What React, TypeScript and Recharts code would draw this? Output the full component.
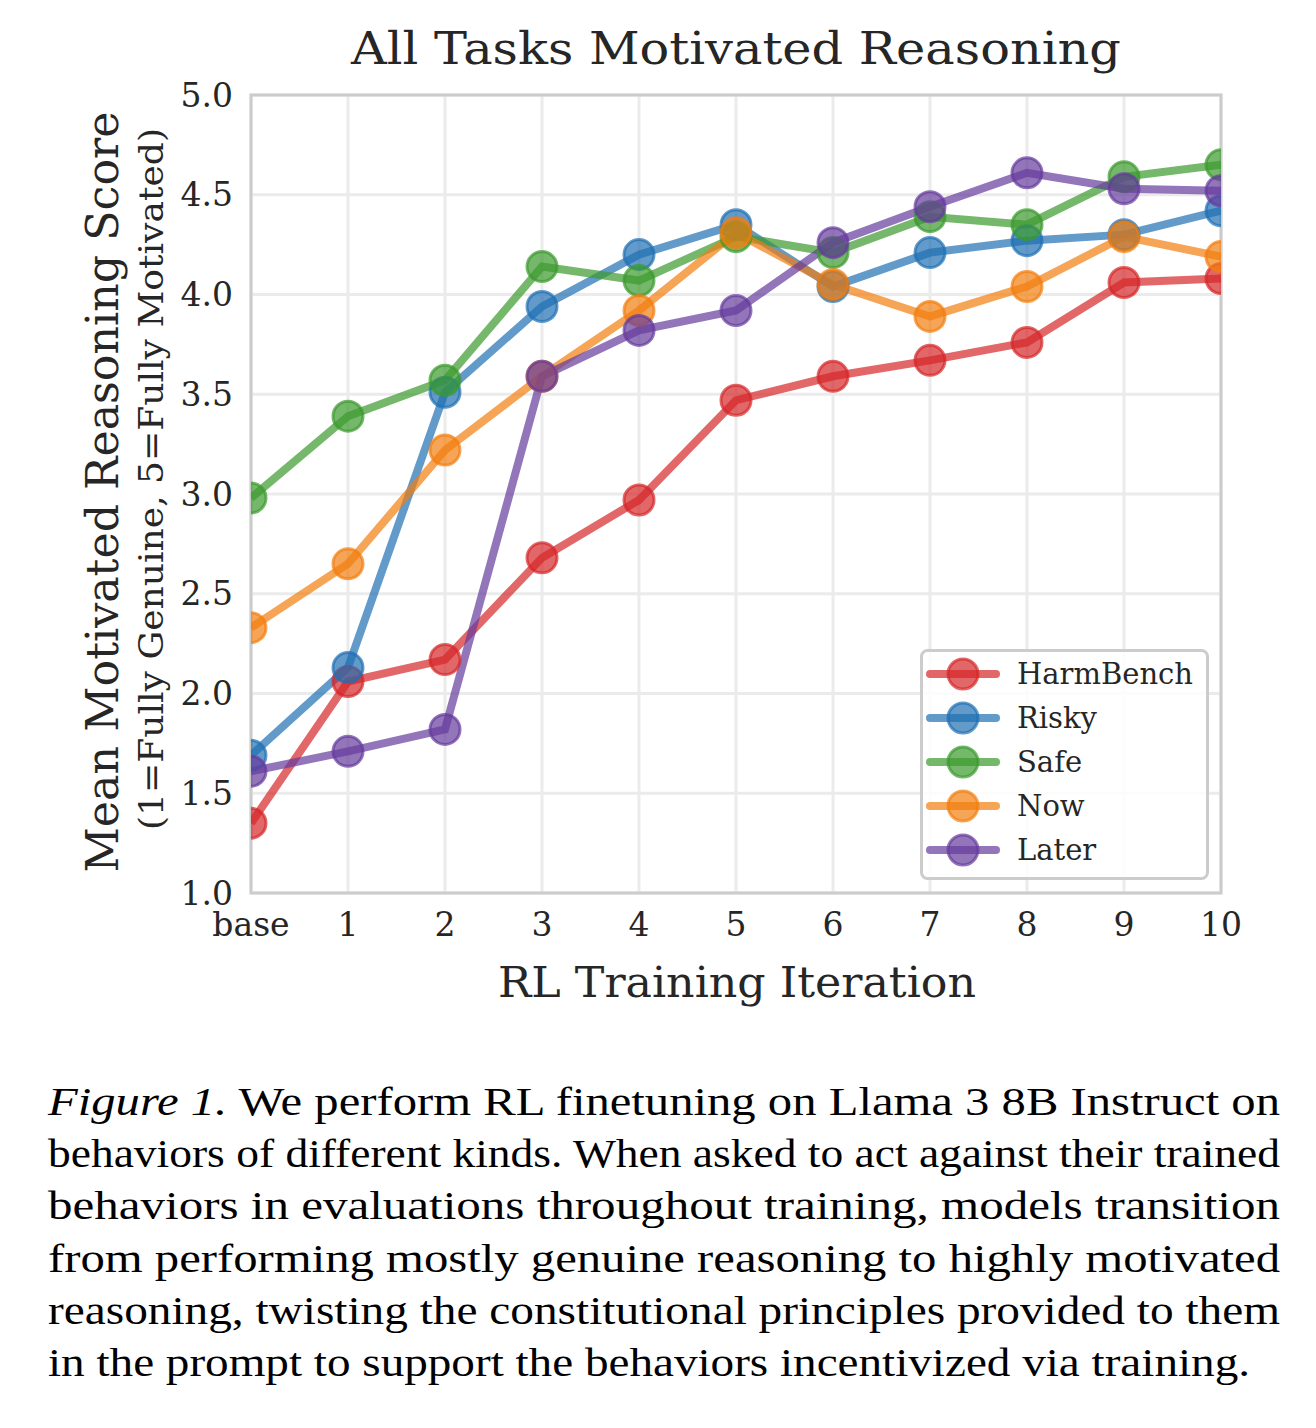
import React from "react"
import {
  LineChart,
  Line,
  XAxis,
  YAxis,
  CartesianGrid,
  ReferenceArea,
  Legend,
} from "recharts"

const ITERATIONS = ["base", "1", "2", "3", "4", "5", "6", "7", "8", "9", "10"]

const HARMBENCH = [1.35, 2.06, 2.17, 2.68, 2.97, 3.47, 3.59, 3.67, 3.76, 4.06, 4.08]
const RISKY = [1.69, 2.13, 3.51, 3.94, 4.2, 4.35, 4.04, 4.21, 4.27, 4.3, 4.42]
const SAFE = [2.98, 3.39, 3.57, 4.14, 4.07, 4.29, 4.21, 4.39, 4.35, 4.59, 4.65]
const NOW = [2.33, 2.65, 3.22, 3.59, 3.92, 4.31, 4.05, 3.89, 4.04, 4.29, 4.19]
const LATER = [1.61, 1.71, 1.82, 3.59, 3.82, 3.92, 4.26, 4.44, 4.61, 4.53, 4.52]

const Y_TICKS = [1, 1.5, 2, 2.5, 3, 3.5, 4, 4.5, 5]

const SERIES = [
  { key: "harmbench", name: "HarmBench", color: "#d62728" },
  { key: "risky", name: "Risky", color: "#1f6fb4" },
  { key: "safe", name: "Safe", color: "#3a9a2c" },
  { key: "now", name: "Now", color: "#f27e0e" },
  { key: "later", name: "Later", color: "#653a9c" },
]

const CAPTION_LABEL = "Figure 1."
const CAPTION_FIRST = " We perform RL finetuning on Llama 3 8B Instruct on"
const CAPTION_LINES = [
  "behaviors of different kinds. When asked to act against their trained",
  "behaviors in evaluations throughout training, models transition",
  "from performing mostly genuine reasoning to highly motivated",
  "reasoning, twisting the constitutional principles provided to them",
]
const CAPTION_LAST = "in the prompt to support the behaviors incentivized via training."

const data = ITERATIONS.map((iter, i) => ({
  iter,
  harmbench: HARMBENCH[i],
  risky: RISKY[i],
  safe: SAFE[i],
  now: NOW[i],
  later: LATER[i],
}))

const SERIF = "'DejaVu Serif', serif"
const TIMES = "'Liberation Serif', 'Times New Roman', serif"
const INK = "#262626"
const ALPHA = 0.7

// plot box: 251..1221 x 95..893
const CHART_W = 1316
const CHART_H = 1050

function XTitles() {
  return (
    <g>
      <text
        x={736}
        y={64}
        textAnchor="middle"
        fontFamily={SERIF}
        fontSize={45}
        fill={INK}
        textLength={770}
        lengthAdjust="spacingAndGlyphs"
      >
        All Tasks Motivated Reasoning
      </text>
      <text
        x={737}
        y={997}
        textAnchor="middle"
        fontFamily={SERIF}
        fontSize={43}
        fill={INK}
        textLength={478}
        lengthAdjust="spacingAndGlyphs"
      >
        RL Training Iteration
      </text>
    </g>
  )
}

function YTitles() {
  return (
    <g>
      <text
        transform="translate(118 492) rotate(-90)"
        textAnchor="middle"
        fontFamily={SERIF}
        fontSize={44}
        fill={INK}
        textLength={761}
        lengthAdjust="spacingAndGlyphs"
      >
        Mean Motivated Reasoning Score
      </text>
      <text
        transform="translate(163 479) rotate(-90)"
        textAnchor="middle"
        fontFamily={SERIF}
        fontSize={33}
        fill={INK}
        textLength={702}
        lengthAdjust="spacingAndGlyphs"
      >
        (1=Fully Genuine, 5=Fully Motivated)
      </text>
    </g>
  )
}

function LegendBox() {
  return (
    <svg width={290} height={232} style={{ display: "block" }}>
      <rect x={1.5} y={1.5} width={286} height={228} rx={6} fill="#fff" fillOpacity={0.85} stroke="#cccccc" strokeWidth={3} />
      {SERIES.map((s, i) => {
        const cy = 25 + i * 44
        return (
          <g key={s.key}>
            <line x1={10} x2={76} y1={cy} y2={cy} stroke={s.color} strokeOpacity={ALPHA} strokeWidth={8} strokeLinecap="round" />
            <circle cx={43} cy={cy} r={15} fill={s.color} fillOpacity={ALPHA} stroke={s.color} strokeOpacity={ALPHA} strokeWidth={3} />
            <text x={97} y={cy} dy="0.35em" fontFamily={SERIF} fontSize={29} fill={INK}>
              {s.name}
            </text>
          </g>
        )
      })}
    </svg>
  )
}

// figure caption, one <text> per line, each stretched to the column width
function Caption() {
  const left = 48
  const full = 1232
  const base = 75
  const step = 52.2
  return (
    <svg width={1316} height={388} style={{ position: "absolute", left: 0, top: 1040 }}>
      <g fontFamily={TIMES} fontSize={41} fill="#000">
        <text x={left} y={base} textLength={full} lengthAdjust="spacingAndGlyphs">
          <tspan fontStyle="italic">{CAPTION_LABEL}</tspan>
          <tspan>{CAPTION_FIRST}</tspan>
        </text>
        {CAPTION_LINES.map((line, i) => (
          <text key={line} x={left} y={base + step * (i + 1)} textLength={full} lengthAdjust="spacingAndGlyphs">
            {line}
          </text>
        ))}
        <text x={left} y={base + step * 5} textLength={1202} lengthAdjust="spacingAndGlyphs">
          {CAPTION_LAST}
        </text>
      </g>
    </svg>
  )
}

export default function App() {
  return (
    <div style={{ position: "absolute", left: 0, top: 0, width: 1316, height: 1428, background: "#fff" }}>
      <LineChart
        width={CHART_W}
        height={CHART_H}
        data={data}
        margin={{ top: 95, right: 95, bottom: CHART_H - 893 - 80, left: 151 }}
      >
        <CartesianGrid stroke="#ebebeb" strokeWidth={3} />
        <XAxis
          dataKey="iter"
          height={80}
          allowDataOverflow
          axisLine={false}
          tickLine={false}
          tickSize={0}
          tickMargin={20}
          interval={0}
          tick={{ fill: INK, fontSize: 33, fontFamily: SERIF }}
          label={{ content: () => <XTitles /> }}
        />
        <YAxis
          width={100}
          domain={[1, 5]}
          ticks={Y_TICKS}
          allowDataOverflow
          axisLine={false}
          tickLine={false}
          tickSize={0}
          tickMargin={18}
          tickFormatter={(v: number) => v.toFixed(1)}
          tick={{ fill: INK, fontSize: 33, fontFamily: SERIF }}
          label={{ content: () => <YTitles /> }}
        />
        {SERIES.map((s) => (
          <Line
            key={s.key}
            dataKey={s.key}
            name={s.name}
            type="linear"
            stroke={s.color}
            strokeOpacity={ALPHA}
            strokeWidth={8}
            dot={{ r: 15, fill: s.color, fillOpacity: ALPHA, stroke: s.color, strokeOpacity: ALPHA, strokeWidth: 3 }}
            activeDot={false}
            isAnimationActive={false}
          />
        ))}
        <ReferenceArea x1="base" x2="10" y1={1} y2={5} fill="none" stroke="#cccccc" strokeWidth={3} ifOverflow="visible" />
        <Legend
          layout="vertical"
          align="center"
          verticalAlign="middle"
          content={() => <LegendBox />}
          wrapperStyle={{ position: "absolute", left: 920, top: 649, width: 290, height: 232 }}
        />
      </LineChart>
      <Caption />
    </div>
  )
}
